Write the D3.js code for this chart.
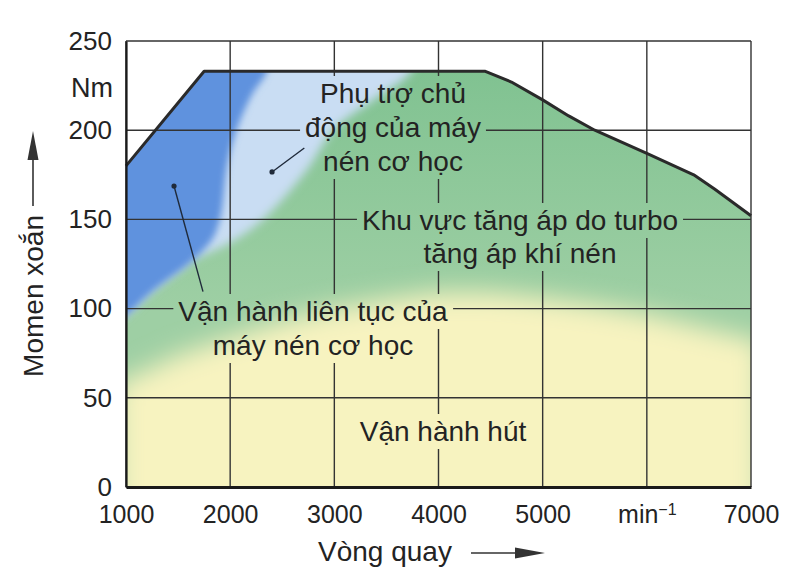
<!DOCTYPE html>
<html>
<head>
<meta charset="utf-8">
<script src="https://cdn.jsdelivr.net/npm/d3@7/dist/d3.min.js"></script>
<style>
  body { margin: 0; background: #fff; }
  svg { display: block; }
  text { font-family: "Liberation Sans", Arial, sans-serif; fill: #232323; }
</style>
</head>
<body>
<svg id="chart" width="809" height="588"></svg>
<script>
// axis ticks
const rpmTicks    = [1000, 2000, 3000, 4000, 5000, 6000, 7000];
const torqueTicks = [0, 50, 100, 150, 200, 250];

// full load torque curve (upper envelope)
const curveRpm    = [1000, 1750, 4450, 4700, 5000, 5250, 5500, 6000, 6450, 6650, 7000];
const curveTorque = [180, 233, 233, 227, 217, 208, 200, 187, 175, 167, 152];

// dark blue (continuous compressor) vs light blue
const blueLightRpm    = [2360, 2210, 2060, 1970, 1910, 1840, 1730, 1640];
const blueLightTorque = [234, 220, 200, 180, 152, 140, 132, 127];

// compressor area vs green, left side
const compGreenRpm    = [1640, 1580, 1260, 1000];
const compGreenTorque = [127, 124, 110, 96];

// light blue (compressor assist) vs green
const lightGreenRpm    = [3750, 3400, 2990, 2740, 2315, 2000, 1640];
const lightGreenTorque = [234, 218, 200, 178, 150, 137, 127];

// green (turbo) vs yellow (naturally aspirated)
const yellowRpm    = [1000, 1500, 2000, 2500, 3000, 3500, 4000, 4500, 5000, 5500, 6000, 6500, 7000];
const yellowTorque = [60, 74, 84, 93, 100, 105, 109, 109, 106, 102, 97, 90, 83];

// label texts
const assistLines = ['Phụ trợ chủ', 'động của máy', 'nén cơ học'];
const turboLines  = ['Khu vực tăng áp do turbo', 'tăng áp khí nén'];
const compLines   = ['Vận hành liên tục của', 'máy nén cơ học'];
const suctionLines = ['Vận hành hút'];
const yTitle = 'Momen xoắn';
const xTitle = 'Vòng quay';
const yUnit  = 'Nm';

const W = 809, H = 588;
const svg = d3.select('#chart');

const x = d3.scaleLinear().domain([1000, 7000]).range([126, 751]);
const y = d3.scaleLinear().domain([0, 250]).range([487, 41]);

const zip = (a, b) => a.map((v, i) => [v, b[i]]);
const line = d3.line().x(d => x(d[0])).y(d => y(d[1]));
const soft = d3.line().x(d => x(d[0])).y(d => y(d[1])).curve(d3.curveCatmullRom.alpha(0.5));

const defs = svg.append('defs');

// soft edges between the regions
[['blur-blue', 3.5], ['blur-light', 5], ['blur-yellow', 13]].forEach(([id, s]) => {
    defs.append('filter').attr('id', id)
        .attr('filterUnits', 'userSpaceOnUse')
        .attr('x', 0).attr('y', 0).attr('width', W).attr('height', H)
        .append('feGaussianBlur').attr('stdDeviation', s);
});

const envelope = zip(curveRpm, curveTorque);
const area = d3.area().x(d => x(d[0])).y0(y(0)).y1(d => y(d[1]));
defs.append('clipPath').attr('id', 'under-curve')
    .append('path').attr('d', area(envelope));

const grad = defs.append('linearGradient').attr('id', 'green-grad')
    .attr('gradientUnits', 'userSpaceOnUse')
    .attr('x1', 0).attr('x2', 0).attr('y1', y(235)).attr('y2', y(100));
grad.append('stop').attr('offset', 0).attr('stop-color', '#80c291');
grad.append('stop').attr('offset', 1).attr('stop-color', '#9ecfa4');

// region fills
const fills = svg.append('g').attr('clip-path', 'url(#under-curve)');

fills.append('rect')
    .attr('x', x(1000)).attr('y', y(250))
    .attr('width', x(7000) - x(1000)).attr('height', y(0) - y(250))
    .attr('fill', 'url(#green-grad)');

const yellowPoly = [[900, yellowTorque[0]]]
    .concat(zip(yellowRpm, yellowTorque))
    .concat([[7100, yellowTorque[yellowTorque.length - 1]], [7100, -20], [900, -20]]);
fills.append('path').attr('d', line(yellowPoly) + 'Z')
    .attr('fill', '#f7f3c0').attr('filter', 'url(#blur-yellow)');

const compGreen = zip(compGreenRpm, compGreenTorque);
const lightPoly = [[3900, 270]]
    .concat(zip(lightGreenRpm, lightGreenTorque))
    .concat(compGreen.slice(1))
    .concat([[900, 92]]);
fills.append('path').attr('d', soft(lightPoly) + 'L' + x(900) + ',' + y(270) + 'Z')
    .attr('fill', '#c9ddf3').attr('filter', 'url(#blur-light)');

const bluePoly = [[2420, 270]]
    .concat(zip(blueLightRpm, blueLightTorque))
    .concat(compGreen.slice(1))
    .concat([[900, 92]]);
fills.append('path').attr('d', soft(bluePoly) + 'L' + x(900) + ',' + y(270) + 'Z')
    .attr('fill', '#5f92de').attr('filter', 'url(#blur-blue)');

// grid, cut where labels sit
const mask = defs.append('mask').attr('id', 'grid-gaps')
    .attr('maskUnits', 'userSpaceOnUse')
    .attr('x', 0).attr('y', 0).attr('width', W).attr('height', H);
mask.append('rect').attr('width', W).attr('height', H).attr('fill', '#fff');

const grid = svg.append('g').attr('mask', 'url(#grid-gaps)')
    .attr('stroke', '#333').attr('stroke-width', 1.4);
grid.selectAll('.v').data(rpmTicks).join('line')
    .attr('x1', d => x(d)).attr('x2', d => x(d))
    .attr('y1', y(0)).attr('y2', y(250));
grid.selectAll('.h').data(torqueTicks).join('line')
    .attr('x1', x(1000)).attr('x2', x(7000))
    .attr('y1', d => y(d)).attr('y2', d => y(d));

// full load curve
svg.append('path').attr('d', line(envelope))
    .attr('fill', 'none').attr('stroke', '#2a2a2a')
    .attr('stroke-width', 3).attr('stroke-linejoin', 'round');

// axes
const xAxis = d3.axisBottom(x).tickValues(rpmTicks)
    .tickSize(0).tickPadding(18)
    .tickFormat(d => d === 6000 ? 'min' : d);
const gx = svg.append('g').attr('transform', `translate(0,${y(0)})`).call(xAxis);
gx.attr('font-family', null).attr('font-size', null);
gx.selectAll('text').style('font-size', '25px');
gx.select('.domain').attr('stroke', '#1a1a1a').attr('stroke-width', 3);
gx.selectAll('.tick').filter(d => d === 6000).select('text')
    .append('tspan').attr('dy', '-0.5em').style('font-size', '16px').text('−1');

const yAxis = d3.axisLeft(y).tickValues(torqueTicks).tickSize(0).tickPadding(14);
const gy = svg.append('g').attr('transform', `translate(${x(1000)},0)`).call(yAxis);
gy.attr('font-family', null).attr('font-size', null);
gy.selectAll('text').style('font-size', '26px');
gy.select('.domain').attr('stroke', '#1a1a1a').attr('stroke-width', 2.2);

svg.append('text').attr('x', x(1000) - 13).attr('y', y(224)).attr('dy', '0.35em')
    .attr('text-anchor', 'end').style('font-size', '27px').text(yUnit);

// region labels
const labels = svg.append('g').attr('text-anchor', 'middle').style('font-size', '28px');
function block(lines, cx, baseline, step) {
    lines.forEach((t, i) => {
        labels.append('text').attr('x', cx).attr('y', baseline + i * step).text(t);
    });
}
block(assistLines, 393, 103, 34);
block(turboLines, 520, 230, 33);
block(compLines, 313, 321, 34);
block(suctionLines, 443, 441, 34);

labels.selectAll('text').each(function () {
    const b = this.getBBox();
    mask.append('rect')
        .attr('x', b.x - 5).attr('y', b.y - 2)
        .attr('width', b.width + 10).attr('height', b.height + 4)
        .attr('fill', '#000');
});

// leader lines with dots
const leaders = [
    {dot: [2402, 176.6], end: [2712, 190]},
    {dot: [1461, 168.7], end: [1739, 109.5]},
];
const lg = svg.append('g');
leaders.forEach(l => {
    lg.append('line')
        .attr('x1', x(l.dot[0])).attr('y1', y(l.dot[1]))
        .attr('x2', x(l.end[0])).attr('y2', y(l.end[1]))
        .attr('stroke', '#1f2a3a').attr('stroke-width', 1.4);
    lg.append('circle').attr('cx', x(l.dot[0])).attr('cy', y(l.dot[1]))
        .attr('r', 2.6).attr('fill', '#1f2a3a');
});

// axis titles with arrows
svg.append('text').attr('transform', 'translate(43,215) rotate(-90)')
    .attr('text-anchor', 'end').style('font-size', '28px').text(yTitle);
svg.append('line').attr('x1', 33).attr('x2', 33).attr('y1', 206).attr('y2', 158)
    .attr('stroke', '#333').attr('stroke-width', 1.6);
svg.append('path').attr('d', 'M33,131L27.5,160L38.5,160Z').attr('fill', '#333');

svg.append('text').attr('x', 318).attr('y', 561).style('font-size', '28px').text(xTitle);
svg.append('line').attr('x1', 471).attr('x2', 518).attr('y1', 553).attr('y2', 553)
    .attr('stroke', '#333').attr('stroke-width', 1.6);
svg.append('path').attr('d', 'M545,553L515,547.5L515,558.5Z').attr('fill', '#333');
</script>
</body>
</html>
